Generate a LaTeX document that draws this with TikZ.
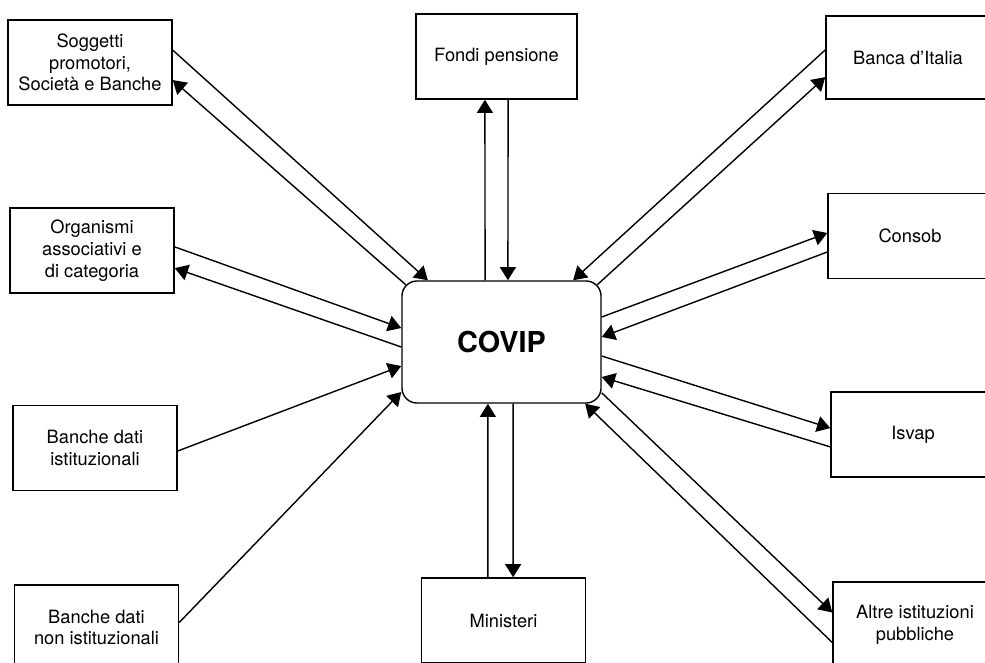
\documentclass[tikz,border=0pt]{standalone}
\usepackage{fontspec}
\setmainfont{TeX Gyre Heros}
\usetikzlibrary{arrows.meta}
\tikzset{
	ente/.style={draw, line width=1pt, minimum width=4.1cm, minimum height=2.125cm, inner sep=2pt, align=center, font=\fontsize{13}{15.5}\selectfont},
	flusso/.style={line width=1pt, -{Triangle[length=0.33cm, width=0.4cm]}}
}
\begin{document}
\begin{tikzpicture}[x=0.025cm, y=-0.025cm]
	\path[use as bounding box, clip] (0, 0) rectangle (985, 663);
	\node[draw, line width=1pt, rounded corners=0.375cm, minimum width=4.975cm, minimum height=3.05cm, font=\fontsize{20.5}{24}\bfseries] (cov) at (501.5, 342) {COVIP};
	\node[ente] (sog) at (90, 62.5) {Soggetti\\promotori,\\Società e Banche};
	\node[ente] (org) at (92, 250.5) {Organismi\\associativi e\\di categoria};
	\node[ente] (bdi) at (95, 448) {Banche dati\\istituzionali};
	\node[ente] (bdn) at (96.5, 627.5) {Banche dati\\non istituzionali};
	\node[ente, minimum width=4.025cm] (fon) at (496.5, 56.5) {Fondi pensione};
	\node[ente] (min) at (503.5, 620.5) {Ministeri};
	\node[ente, minimum height=2.075cm] (ban) at (908, 57.5) {Banca d'Italia};
	\node[ente] (con) at (910, 236) {Consob};
	\node[ente] (isv) at (913, 434.5) {Isvap};
	\node[ente] (alt) at (915, 624.5) {Altre istituzioni\\pubbliche};
	\draw[flusso] ([yshift=0.31cm]sog.east) -- ([xshift=-1.84cm]cov.north);
	\draw[flusso] ([xshift=0.11cm, yshift=-0.11cm]cov.north west) -- ([yshift=-0.44cm]sog.east);
	\draw[flusso] ([yshift=0.09cm]org.east) -- ([yshift=0.35cm]cov.west);
	\draw[flusso] ([yshift=-0.125cm]cov.west) -- ([yshift=-0.44cm]org.east);
	\draw[flusso] ([yshift=-0.075cm]bdi.east) -- ([yshift=-0.6cm]cov.west);
	\draw[flusso] ([yshift=0.125cm]bdn.east) -- ([yshift=-1.25cm]cov.west);
	\draw[flusso] ([xshift=-0.41cm]cov.north) -- ([xshift=-0.29cm]fon.south);
	\draw[flusso] ([xshift=0.29cm]fon.south) -- ([xshift=0.16cm]cov.north);
	\draw[flusso] ([xshift=-0.39cm]min.north) -- ([xshift=-0.34cm]cov.south);
	\draw[flusso] ([xshift=0.29cm]cov.south) -- ([xshift=0.24cm]min.north);
	\draw[flusso] ([yshift=0.19cm]ban.west) -- ([xshift=1.79cm]cov.north);
	\draw[flusso] ([xshift=-0.11cm, yshift=-0.11cm]cov.north east) -- ([yshift=-0.49cm]ban.west);
	\draw[flusso] ([yshift=0.625cm]cov.east) -- ([yshift=0.075cm]con.west);
	\draw[flusso] ([yshift=-0.4cm]con.west) -- ([yshift=0.125cm]cov.east);
	\draw[flusso] ([yshift=-0.35cm]cov.east) -- ([yshift=0.16cm]isv.west);
	\draw[flusso] ([yshift=-0.31cm]isv.west) -- ([yshift=-0.875cm]cov.east);
	\draw[flusso] ([yshift=-1.27cm]cov.east) -- ([yshift=0.3cm]alt.west);
	\draw[flusso] ([yshift=-0.45cm]alt.west) -- ([xshift=2.09cm]cov.south);
\end{tikzpicture}
\end{document}
